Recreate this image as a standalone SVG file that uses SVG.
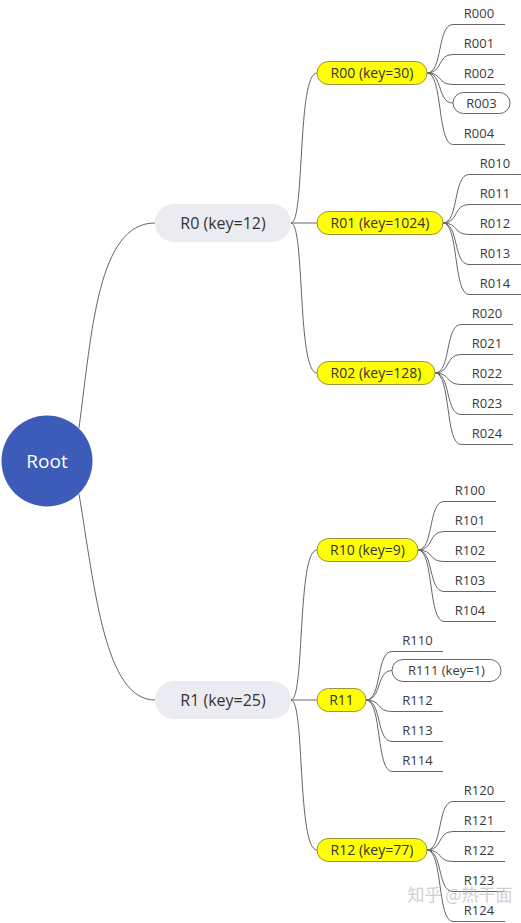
<svg xmlns="http://www.w3.org/2000/svg" width="521" height="923" viewBox="0 0 521 923">
<style>
text{font-family:"Open Sans","Noto Sans",sans-serif;fill:#333;text-anchor:middle}
.l1 rect{fill:#EBECF2}
.l1 text{font-size:16px}
.l2 rect{fill:#FFFF00;stroke:#9a9440;stroke-width:1}
.l2 text{font-size:14px}
.leaf text{font-size:13px;fill:#3a3a3a}
.pill rect{fill:#fff;stroke:#666;stroke-width:1}
#links path{fill:none;stroke:#666;stroke-width:1}
.wm{font-family:"Noto Sans CJK SC",sans-serif;font-size:17px;fill:#bbb;opacity:.7}
</style>
<rect width="521" height="923" fill="#fff"/>
<g id="links">
<path d="M79,428 C92,330 98,223 155,223"/>
<path d="M79,494 C95,590 105,700 155,700"/>
<path d="M291,223 C305,223 297,73 317,73"/>
<path d="M291,223 H317"/>
<path d="M291,223 C305,223 297,373 317,373"/>
<path d="M291,700 C305,700 297,550 317,550"/>
<path d="M291,700 H317"/>
<path d="M291,700 C305,700 297,850 317,850"/>
<!-- R00 -->
<path d="M427,73 C443,73 437,24.5 453,24.5 H505"/>
<path d="M427,73 C443,73 437,54.5 453,54.5 H505"/>
<path d="M427,73 C443,73 437,84.5 453,84.5 H505"/>
<path d="M427,73 C443,73 437,103 453,103"/>
<path d="M427,73 C443,73 437,144.5 453,144.5 H505"/>
<!-- R01 -->
<path d="M443,223 C459,223 453,174.5 469,174.5 H521"/>
<path d="M443,223 C459,223 453,204.5 469,204.5 H521"/>
<path d="M443,223 C459,223 453,234.5 469,234.5 H521"/>
<path d="M443,223 C459,223 453,264.5 469,264.5 H521"/>
<path d="M443,223 C459,223 453,294.5 469,294.5 H521"/>
<!-- R02 -->
<path d="M435,373 C451,373 445,324.5 461,324.5 H513"/>
<path d="M435,373 C451,373 445,354.5 461,354.5 H513"/>
<path d="M435,373 C451,373 445,384.5 461,384.5 H513"/>
<path d="M435,373 C451,373 445,414.5 461,414.5 H513"/>
<path d="M435,373 C451,373 445,444.5 461,444.5 H513"/>
<!-- R10 -->
<path d="M418,550 C434,550 428,501.5 444,501.5 H496"/>
<path d="M418,550 C434,550 428,531.5 444,531.5 H496"/>
<path d="M418,550 C434,550 428,561.5 444,561.5 H496"/>
<path d="M418,550 C434,550 428,591.5 444,591.5 H496"/>
<path d="M418,550 C434,550 428,621.5 444,621.5 H496"/>
<!-- R11 -->
<path d="M366,700 C382,700 376,651.5 392,651.5 H443"/>
<path d="M366,700 C382,700 376,670.5 392,670.5"/>
<path d="M366,700 C382,700 376,711.5 392,711.5 H443"/>
<path d="M366,700 C382,700 376,741.5 392,741.5 H443"/>
<path d="M366,700 C382,700 376,771.5 392,771.5 H443"/>
<!-- R12 -->
<path d="M427,850 C443,850 437,801.5 453,801.5 H505"/>
<path d="M427,850 C443,850 437,831.5 453,831.5 H505"/>
<path d="M427,850 C443,850 437,861.5 453,861.5 H505"/>
<path d="M427,850 C443,850 437,891.5 453,891.5 H505"/>
<path d="M427,850 C443,850 437,921.5 453,921.5 H505"/>
</g>
<g id="root">
<circle cx="47" cy="461" r="45.5" fill="#3D5BB8"/>
<text x="47" y="468" style="font-size:19px;fill:#fff">Root</text>
</g>
<g id="R0" class="l1"><rect x="155" y="204" width="136" height="38" rx="19"/><text x="223" y="228.5">R0 (key=12)</text></g>
<g id="R1" class="l1"><rect x="155" y="681" width="136" height="38" rx="19"/><text x="223" y="705.5">R1 (key=25)</text></g>
<g id="R00" class="l2"><rect x="317" y="61.5" width="110" height="23" rx="11.5"/><text x="372" y="78">R00 (key=30)</text></g>
<g id="R01" class="l2"><rect x="317" y="211.5" width="126" height="23" rx="11.5"/><text x="380" y="228">R01 (key=1024)</text></g>
<g id="R02" class="l2"><rect x="317" y="361.5" width="118" height="23" rx="11.5"/><text x="376" y="378">R02 (key=128)</text></g>
<g id="R10" class="l2"><rect x="317" y="538.5" width="101" height="23" rx="11.5"/><text x="367.5" y="555">R10 (key=9)</text></g>
<g id="R11" class="l2"><rect x="317" y="688.5" width="49" height="23" rx="11.5"/><text x="341.5" y="705">R11</text></g>
<g id="R12" class="l2"><rect x="317" y="838.5" width="110" height="23" rx="11.5"/><text x="372" y="855">R12 (key=77)</text></g>
<g class="leaf">
<g id="R000"><text x="479" y="17.5">R000</text></g>
<g id="R001"><text x="479" y="47.5">R001</text></g>
<g id="R002"><text x="479" y="77.5">R002</text></g>
<g id="R003" class="pill"><rect x="453" y="92.5" width="57" height="21" rx="10.5"/><text x="481.5" y="107.5">R003</text></g>
<g id="R004"><text x="479" y="137.5">R004</text></g>
<g id="R010"><text x="495" y="167.5">R010</text></g>
<g id="R011"><text x="495" y="197.5">R011</text></g>
<g id="R012"><text x="495" y="227.5">R012</text></g>
<g id="R013"><text x="495" y="257.5">R013</text></g>
<g id="R014"><text x="495" y="287.5">R014</text></g>
<g id="R020"><text x="487" y="317.5">R020</text></g>
<g id="R021"><text x="487" y="347.5">R021</text></g>
<g id="R022"><text x="487" y="377.5">R022</text></g>
<g id="R023"><text x="487" y="407.5">R023</text></g>
<g id="R024"><text x="487" y="437.5">R024</text></g>
<g id="R100"><text x="470" y="494.5">R100</text></g>
<g id="R101"><text x="470" y="524.5">R101</text></g>
<g id="R102"><text x="470" y="554.5">R102</text></g>
<g id="R103"><text x="470" y="584.5">R103</text></g>
<g id="R104"><text x="470" y="614.5">R104</text></g>
<g id="R110"><text x="417.5" y="644.5">R110</text></g>
<g id="R111" class="pill"><rect x="392" y="659.5" width="109" height="22" rx="11"/><text x="446.5" y="675">R111 (key=1)</text></g>
<g id="R112"><text x="417.5" y="704.5">R112</text></g>
<g id="R113"><text x="417.5" y="734.5">R113</text></g>
<g id="R114"><text x="417.5" y="764.5">R114</text></g>
<g id="R120"><text x="479" y="794.5">R120</text></g>
<g id="R121"><text x="479" y="824.5">R121</text></g>
<g id="R122"><text x="479" y="854.5">R122</text></g>
<g id="R123"><text x="479" y="884.5">R123</text></g>
<g id="R124"><text x="479" y="914.5">R124</text></g>
</g>
<text class="wm" x="460" y="901">知乎 @热干面</text>
</svg>
